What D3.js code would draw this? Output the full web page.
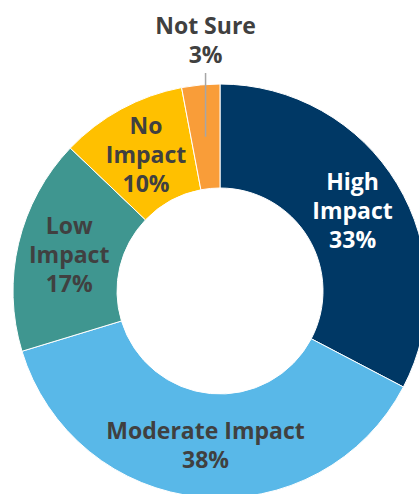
<!DOCTYPE html>
<html>
<head>
<meta charset="utf-8">
<script src="https://cdnjs.cloudflare.com/ajax/libs/d3/7.8.5/d3.min.js"></script>
<style>
  body { margin: 0; background: #fff; }
  text { font-family: "Open Sans", Lato, sans-serif; font-weight: bold; }
</style>
</head>
<body>
<script>
// survey shares, clockwise from 12 o'clock
var labels = ["High Impact", "Moderate Impact", "Low Impact", "No Impact", "Not Sure"];
var values = [33, 38, 17, 10, 3];
var colors = ["#003865", "#59b8e8", "#3f9690", "#ffc000", "#f99d39"];
var lines = [["High", "Impact"], ["Moderate Impact"], ["Low", "Impact"], ["No", "Impact"], ["Not Sure"]];

var W = 419, H = 494;
var cx = 220, cy = 291, rOut = 207, rIn = 103, rLab = 155;

var svg = d3.select("body").append("svg")
    .attr("width", W).attr("height", H);

var g = svg.append("g").attr("transform", "translate(" + cx + "," + cy + ")");

var pie = d3.pie().sort(null).value(function(d) { return d; });
var arcs = pie(values);
var arc = d3.arc().innerRadius(rIn).outerRadius(rOut);
var labArc = d3.arc().innerRadius(rLab).outerRadius(rLab);

g.selectAll("path").data(arcs).enter().append("path")
    .attr("d", arc)
    .attr("fill", function(d, i) { return colors[i]; })
    .attr("stroke", "#fff")
    .attr("stroke-width", 1);

var lh = 29, fs = 23;

arcs.forEach(function(a, i) {
  var c = labArc.centroid(a);
  var rows = lines[i].concat([values[i] + "%"]);
  var fill = i === 0 ? "#fff" : "#404040";
  var y0;
  if (i === 4) {
    // outside label with leader line
    g.append("line")
      .attr("x1", c[0]).attr("x2", c[0])
      .attr("y1", c[1]).attr("y2", 73 - cy)
      .attr("stroke", "#a6a6a6").attr("stroke-width", 1.5);
    y0 = 26 - cy;
  } else {
    y0 = c[1] - (rows.length - 1) * lh / 2;
  }
  var t = g.append("text")
    .attr("text-anchor", "middle")
    .attr("fill", fill)
    .style("font-size", fs + "px");
  rows.forEach(function(r, k) {
    t.append("tspan")
      .attr("x", c[0])
      .attr("y", y0 + k * lh)
      .attr("dy", "0.36em")
      .text(r);
  });
});
</script>
</body>
</html>
